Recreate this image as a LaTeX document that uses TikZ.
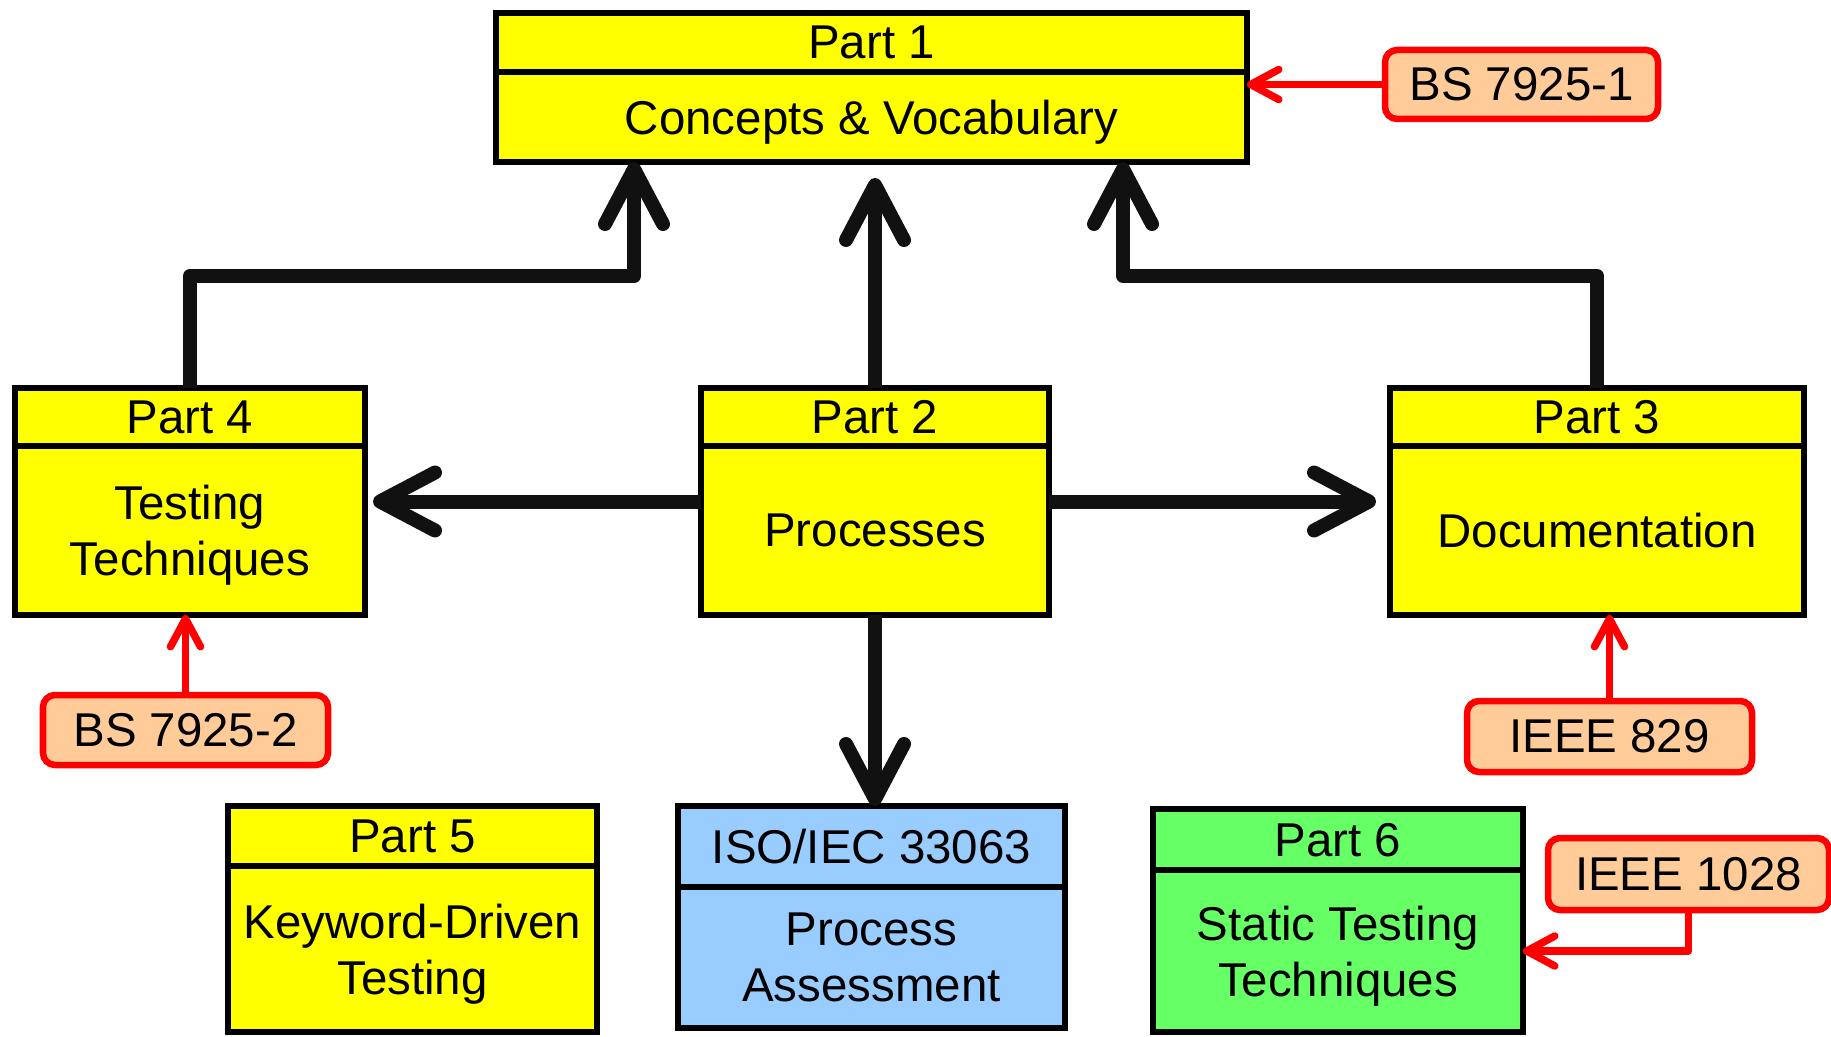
\documentclass[tikz,border=0pt]{standalone}
\usepackage{fontspec}
\setmainfont{Liberation Sans}
\usetikzlibrary{positioning,arrows.meta,shadows}

\definecolor{partyellow}{HTML}{FFFF00}
\definecolor{partblue}{HTML}{99CCFF}
\definecolor{partgreen}{HTML}{66FF66}
\definecolor{stdpeach}{HTML}{FFCC99}
\definecolor{stdred}{HTML}{FF0000}
\definecolor{linkblack}{HTML}{111111}

\begin{document}
\begin{tikzpicture}[
  every node/.style={font=\fontsize{13.5}{16}\selectfont},
  partcell/.style={draw=black, line width=0.06cm, inner sep=0pt, outer sep=0pt, align=center,
    text depth=0pt,
    drop shadow={shadow xshift=0.03cm, shadow yshift=-0.03cm, opacity=0.35}},
  stdlabel/.style={draw=stdred, fill=stdpeach, line width=0.065cm, rounded corners=0.12cm,
    inner sep=0pt, outer sep=0pt},
  bigarrow/.style={draw=linkblack, line width=0.14cm, line join=round,
    -{Straight Barb[length=5.5mm,width=5.8mm,round]}},
  redarrow/.style={draw=stdred, line width=0.075cm, line join=round,
    -{Straight Barb[length=2.8mm,width=3mm,round]}}
]
  \useasboundingbox (0,0) rectangle (18.31,10.36);

  \node[partcell, fill=partyellow, minimum width=7.51cm, minimum height=0.59cm, anchor=north west] (p1h) at (4.96,10.23) {Part 1};
  \node[partcell, fill=partyellow, minimum width=7.51cm, minimum height=0.90cm, below=0pt of p1h] (p1) {Concepts \& Vocabulary};

  \node[partcell, fill=partyellow, minimum width=3.50cm, minimum height=0.58cm, anchor=north west] (p4h) at (0.15,6.48) {Part 4};
  \node[partcell, fill=partyellow, minimum width=3.50cm, minimum height=1.69cm, below=0pt of p4h] (p4) {Testing\\Techniques};

  \node[partcell, fill=partyellow, minimum width=3.48cm, minimum height=0.58cm, anchor=north west] (p2h) at (7.01,6.48) {Part 2};
  \node[partcell, fill=partyellow, minimum width=3.48cm, minimum height=1.69cm, below=0pt of p2h] (p2) {Processes};

  \node[partcell, fill=partyellow, minimum width=4.14cm, minimum height=0.58cm, anchor=north west] (p3h) at (13.90,6.48) {Part 3};
  \node[partcell, fill=partyellow, minimum width=4.14cm, minimum height=1.69cm, below=0pt of p3h] (p3) {Documentation};

  \node[partcell, fill=partyellow, minimum width=3.69cm, minimum height=0.60cm, anchor=north west] (p5h) at (2.28,2.30) {Part 5};
  \node[partcell, fill=partyellow, minimum width=3.69cm, minimum height=1.66cm, below=0pt of p5h] (p5) {Keyword-Driven\\Testing};

  \node[partcell, fill=partblue, minimum width=3.87cm, minimum height=0.81cm, anchor=north west] (isoh) at (6.78,2.30) {ISO/IEC 33063};
  \node[partcell, fill=partblue, minimum width=3.87cm, minimum height=1.41cm, below=0pt of isoh] (iso) {Process\\Assessment};

  \node[partcell, fill=partgreen, minimum width=3.70cm, minimum height=0.61cm, anchor=north west] (p6h) at (11.53,2.27) {Part 6};
  \node[partcell, fill=partgreen, minimum width=3.70cm, minimum height=1.62cm, below=0pt of p6h] (p6) {Static Testing\\Techniques};

  \node[stdlabel, minimum width=2.73cm, minimum height=0.69cm] (bs1) at (15.215,9.515) {BS 7925-1};
  \node[stdlabel, minimum width=2.85cm, minimum height=0.70cm] (bs2) at (1.855,3.06) {BS 7925-2};
  \node[stdlabel, minimum width=2.85cm, minimum height=0.71cm] (ieee829) at (16.095,2.995) {IEEE 829};
  \node[stdlabel, minimum width=2.81cm, minimum height=0.72cm] (ieee1028) at (16.885,1.62) {IEEE 1028};

  \coordinate (p1in4) at ([xshift=1.38cm]p1.south west);
  \coordinate (p1in3) at ([xshift=-1.24cm]p1.south east);
  \draw[bigarrow] (p4h.north) -- ++(0,1.12) -| (p1in4);
  \draw[bigarrow] (p3h.north) -- ++(0,1.12) -| (p1in3);
  \draw[bigarrow, shorten >=0.16cm] (p2h.north) -- (p2h.north |- p1.south);
  \draw[bigarrow, shorten >=0.08cm] ([yshift=0.29cm]p2.west) -- ([yshift=0.29cm]p4.east);
  \draw[bigarrow, shorten >=0.14cm] ([yshift=0.29cm]p2.east) -- ([yshift=0.29cm]p3.west);
  \draw[bigarrow] (p2.south) -- (p2.south |- isoh.north);

  \draw[redarrow] (bs1.west) -- (bs1.west -| p1.east);
  \draw[redarrow] (bs2.north) -- (bs2.north |- p4.south);
  \draw[redarrow] (ieee829.north) -- (ieee829.north |- p3.south);
  \draw[redarrow] (ieee1028.south) |- (p6.east);
\end{tikzpicture}
\end{document}
